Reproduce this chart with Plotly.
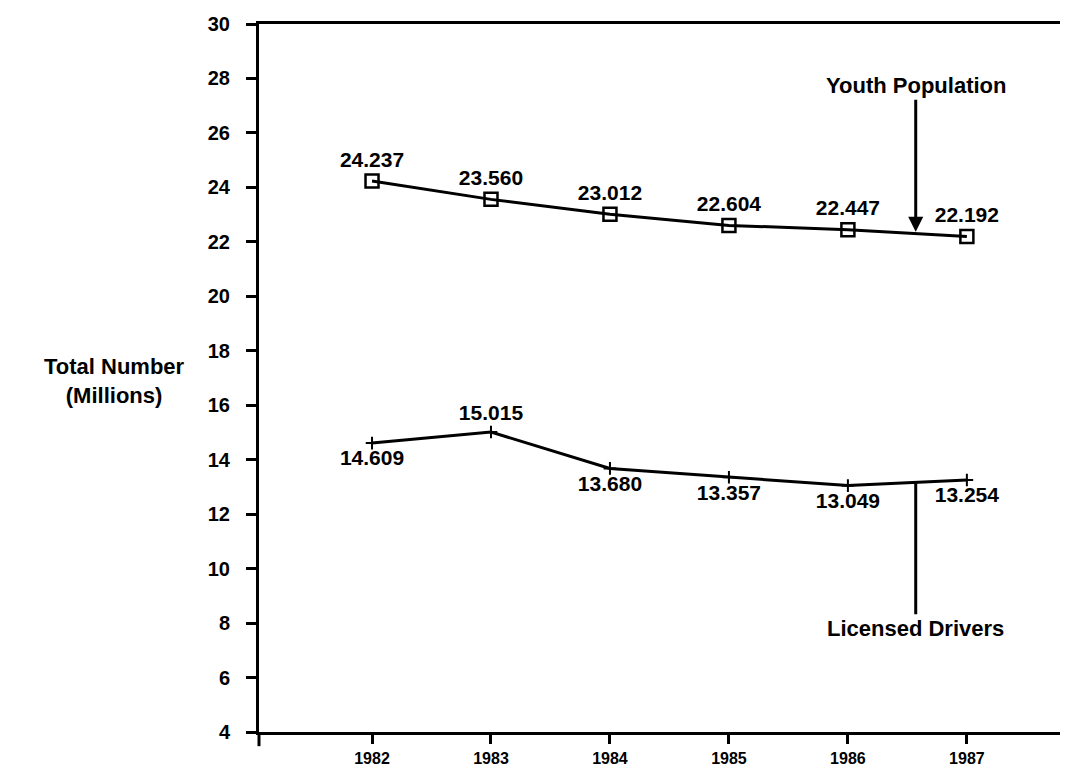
import plotly.graph_objects as go

years = [1982, 1983, 1984, 1985, 1986, 1987]
youth_population = [24.237, 23.560, 23.012, 22.604, 22.447, 22.192]
licensed_drivers = [14.609, 15.015, 13.680, 13.357, 13.049, 13.254]
youth_labels = ["24.237", "23.560", "23.012", "22.604", "22.447", "22.192"]
driver_labels = ["14.609", "15.015", "13.680", "13.357", "13.049", "13.254"]
driver_label_pos = ["bottom center", "top center", "bottom center",
                    "bottom center", "bottom center", "bottom center"]
y_ticks = list(range(4, 31, 2))

FONT = "Liberation Sans, Arial, sans-serif"

fig = go.Figure()

fig.add_trace(go.Scatter(
    x=years, y=youth_population, mode="lines+markers+text",
    text=youth_labels, textposition="top center",
    textfont=dict(family=FONT, size=21, color="black", weight="bold"),
    line=dict(color="black", width=3),
    marker=dict(symbol="square-open", size=13, color="black", line=dict(width=2.5)),
    name="Youth Population", showlegend=False, cliponaxis=False,
))

fig.add_trace(go.Scatter(
    x=years, y=licensed_drivers, mode="lines+markers+text",
    text=driver_labels, textposition=driver_label_pos,
    textfont=dict(family=FONT, size=21, color="black", weight="bold"),
    line=dict(color="black", width=3),
    marker=dict(symbol="cross-thin-open", size=9, color="black", line=dict(width=2, color="black")),
    name="Licensed Drivers", showlegend=False, cliponaxis=False,
))

fig.update_layout(
    template="none",
    width=1060, height=764,
    margin=dict(l=251, r=0, t=16, b=40),
    paper_bgcolor="white", plot_bgcolor="white",
    font=dict(family=FONT, color="black"),
    xaxis=dict(
        range=[1981.05, 1987.85], automargin=False,
        tickvals=years, ticktext=[str(y) for y in years],
        showgrid=False, zeroline=False,
        showline=True, linecolor="black", linewidth=3, mirror=True,
        ticks="outside", ticklen=9, tickwidth=2.5, tickcolor="black",
        ticklabelstandoff=1,
        tickfont=dict(family=FONT, size=16, color="black", weight="bold"),
    ),
    yaxis=dict(
        range=[4, 30], automargin=False,
        tickvals=y_ticks,
        showgrid=False, zeroline=False,
        showline=True, linecolor="black", linewidth=3,
        ticks="outside", ticklen=10, tickwidth=3, tickcolor="black",
        ticklabelstandoff=12,
        tickfont=dict(family=FONT, size=20, color="black", weight="bold"),
    ),
    annotations=[
        dict(text="Total Number<br>(Millions)", xref="paper", yref="y",
             x=-0.178, y=16.9, showarrow=False, xanchor="center", yanchor="middle",
             font=dict(family=FONT, size=22, color="black", weight="bold")),
        dict(text="Youth Population", xref="x", yref="y",
             x=1986.57, y=22.37, ax=0, ay=-132, axref="pixel", ayref="pixel",
             showarrow=True, arrowhead=2, arrowsize=1, arrowwidth=3, arrowcolor="black",
             standoff=0, yanchor="bottom",
             font=dict(family=FONT, size=22, color="black", weight="bold")),
        dict(text="Licensed Drivers", xref="x", yref="y",
             x=1986.57, y=13.17, ax=0, ay=132, axref="pixel", ayref="pixel",
             showarrow=True, arrowhead=0, arrowwidth=3, arrowcolor="black",
             yanchor="top",
             font=dict(family=FONT, size=22, color="black", weight="bold")),
    ],
    shapes=[
        dict(type="line", xref="paper", yref="paper", x0=0, x1=0, y0=0, y1=-0.02,
             line=dict(color="black", width=3)),
    ],
)

fig.write_html("out.html")
